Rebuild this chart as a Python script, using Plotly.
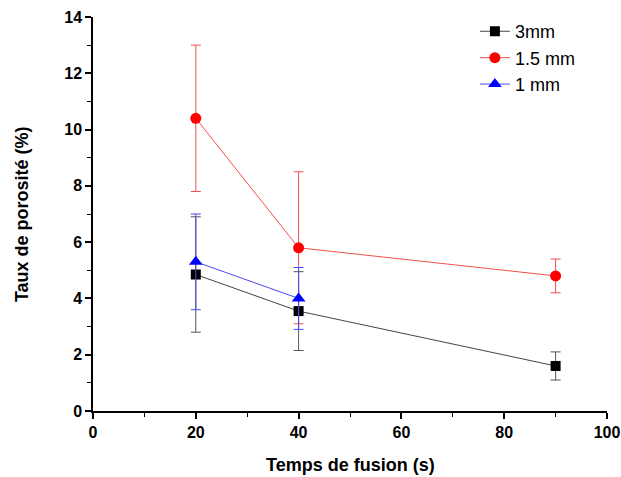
import plotly.graph_objects as go

temps = [20, 40, 90]

taux_3mm = [4.85, 3.55, 1.6]
err_3mm = [2.05, 1.4, 0.5]

temps_15 = [20, 40, 90]
taux_15mm = [10.4, 5.8, 4.8]
err_15mm = [2.6, 2.7, 0.6]

temps_1 = [20, 40]
taux_1mm = [5.3, 4.0]
err_1mm = [1.7, 1.1]

FONT = "Liberation Sans, Arial, sans-serif"

fig = go.Figure()

fig.add_trace(go.Scatter(
    x=temps, y=taux_3mm, name="3mm", mode="lines+markers",
    line=dict(color="#444444", width=1),
    marker=dict(symbol="square", size=10, color="black"),
    error_y=dict(type="data", array=err_3mm, color="#555555", thickness=1, width=5),
))
fig.add_trace(go.Scatter(
    x=temps_15, y=taux_15mm, name="1.5 mm", mode="lines+markers",
    line=dict(color="#f05050", width=1),
    marker=dict(symbol="circle", size=11, color="red"),
    error_y=dict(type="data", array=err_15mm, color="#f05050", thickness=1, width=5),
))
fig.add_trace(go.Scatter(
    x=temps_1, y=taux_1mm, name="1 mm", mode="lines+markers",
    line=dict(color="#4a4af0", width=1),
    marker=dict(symbol="triangle-up", size=12, color="blue"),
    error_y=dict(type="data", array=err_1mm, color="#4a4af0", thickness=1, width=5),
))

axis_common = dict(
    showgrid=False, zeroline=False, showline=True, linecolor="black", linewidth=1.5,
    ticks="outside", ticklen=6, tickwidth=1.5, tickcolor="black", automargin=False,
    tickfont=dict(family=FONT, size=16, color="black", weight="bold"),
)

fig.update_xaxes(
    range=[0, 100], dtick=20, tick0=0,
    minor=dict(dtick=10, ticks="outside", ticklen=4, tickcolor="black", tickwidth=1),
    **axis_common,
)
fig.update_yaxes(
    range=[0, 14], dtick=2, tick0=0,
    minor=dict(dtick=1, ticks="outside", ticklen=4, tickcolor="black", tickwidth=1),
    **axis_common,
)

title_font = dict(family=FONT, size=18, color="black", weight="bold")
fig.add_annotation(text="Temps de fusion (s)", xref="paper", yref="paper",
                   x=0.5, y=-0.137, yanchor="middle", showarrow=False, font=title_font)
fig.add_annotation(text="Taux de porosité (%)", xref="paper", yref="paper",
                   x=-0.138, y=0.5, xanchor="center", textangle=-90,
                   showarrow=False, font=title_font)

fig.update_layout(
    width=621, height=477,
    margin=dict(l=93, r=14, t=17, b=66),
    plot_bgcolor="white", paper_bgcolor="white",
    font=dict(family=FONT, size=16, color="black"),
    legend=dict(x=0.743, y=1.01, xanchor="left", yanchor="top",
                bgcolor="rgba(0,0,0,0)", font=dict(family=FONT, size=18),
                tracegroupgap=0, itemsizing="trace"),
)

# drop the page margin so the figure fills the window exactly
fig.write_html(
    "out.html",
    config={"displayModeBar": False},
    post_script="document.body.style.margin='0';document.body.style.overflow='hidden';",
)
